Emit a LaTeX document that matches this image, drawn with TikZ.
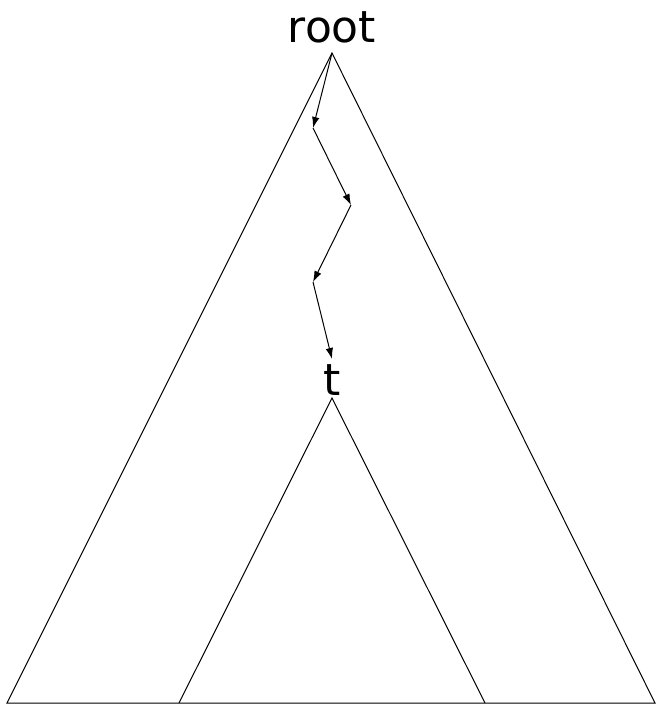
\documentclass[tikz,border=0pt]{standalone}
\usepackage{fontspec}
\setmainfont{DejaVu Sans}
\usetikzlibrary{arrows.meta}
\begin{document}
\begin{tikzpicture}[x=1pt,y=-1pt,
  edge/.style={line width=1pt,black},
  step arrow/.style={line width=1pt,-{Latex[length=11pt,width=7.5pt]}},
  lbl/.style={anchor=base,inner sep=0pt,font=\fontsize{44}{44}\selectfont}]
\useasboundingbox (0,0) rectangle (656,705);
\node[lbl] (root) at (332,42) {root};
\node[lbl] (t) at (332,395) {t};
\coordinate (A) at (332,53);
\coordinate (BL) at (7,703);
\coordinate (BR) at (655,703);
\coordinate (T) at (332,398);
\coordinate (TL) at (179,703);
\coordinate (TR) at (485,703);
\coordinate (p1) at (313,128);
\coordinate (p2) at (351,205);
\coordinate (p3) at (313,282);
\coordinate (p4) at (332,359);
\draw[edge] (BL) -- (A) -- (BR) -- cycle;
\draw[edge] (TL) -- (T) -- (TR);
\draw[step arrow] (A) -- (p1);
\draw[step arrow] (p1) -- (p2);
\draw[step arrow] (p2) -- (p3);
\draw[step arrow] (p3) -- (p4);
\end{tikzpicture}
\end{document}
